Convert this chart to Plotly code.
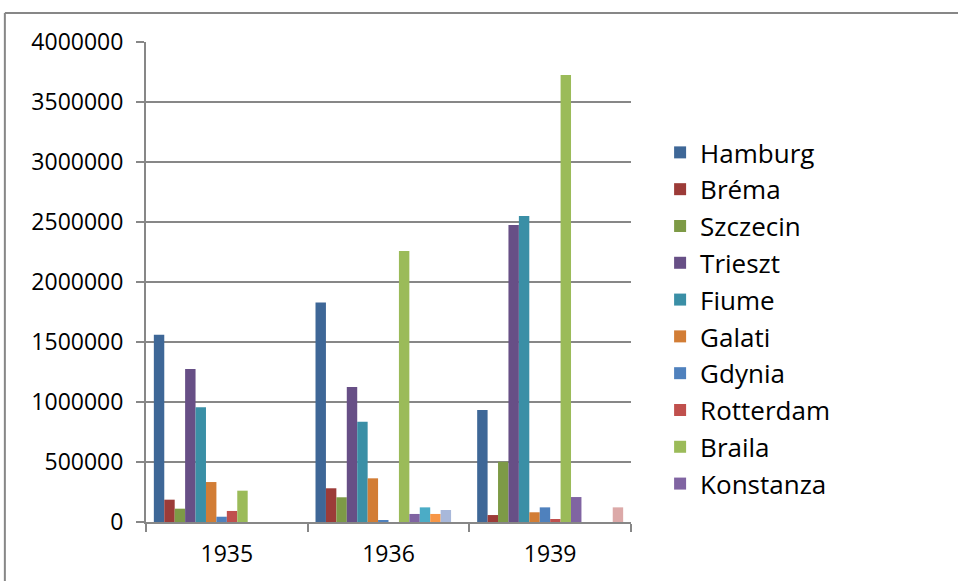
"""
Port traffic by year - grouped bar chart (Excel style)
"""
import plotly.graph_objects as go

# Categories (years)
years = ['1935', '1936', '1939']

# Series names (the last four have no legend entry in the original)
ports = ['Hamburg', 'Bréma', 'Szczecin', 'Trieszt', 'Fiume', 'Galati',
         'Gdynia', 'Rotterdam', 'Braila', 'Konstanza',
         'Sorozat 11', 'Sorozat 12', 'Sorozat 13', 'Sorozat 14']

# Values per port for 1935, 1936, 1939
hamburg = [1560000, 1830000, 933000]
brema = [186000, 281000, 58000]
szczecin = [111000, 206000, 502000]
trieszt = [1275000, 1125000, 2475000]
fiume = [956000, 836000, 2550000]
galati = [333000, 364000, 81000]
gdynia = [44000, 14000, 122000]
rotterdam = [92000, 0, 25000]
braila = [261000, 2258000, 3725000]
konstanza = [0, 67000, 208000]
series_11 = [0, 122000, 0]
series_12 = [0, 67000, 0]
series_13 = [0, 100000, 0]
series_14 = [0, 0, 122000]

values = [hamburg, brema, szczecin, trieszt, fiume, galati, gdynia,
          rotterdam, braila, konstanza, series_11, series_12, series_13, series_14]

colors = ['#3E6797', '#9C3B38', '#7D9A46', '#674F86', '#3A8FA6', '#D27D35',
          '#4F81BD', '#C0504D', '#9BBB59', '#8064A2',
          '#4BACC6', '#F79646', '#A8B8DA', '#DCA9A8']

GRID = '#878787'
FONT = 'Open Sans'

fig = go.Figure()

for i, (name, vals) in enumerate(zip(ports, values)):
    fig.add_trace(go.Bar(
        x=years,
        y=vals,
        name=name,
        marker=dict(color=colors[i], line=dict(width=0)),
        showlegend=i < 10,
    ))

# Chart area frame (top and left edges visible)
fig.add_shape(type='line', xref='paper', yref='paper',
              x0=-0.291, x1=2.5, y0=1.0604, y1=1.0604,
              line=dict(color=GRID, width=2))
fig.add_shape(type='line', xref='paper', yref='paper',
              x0=-0.291, x1=-0.291, y0=1.0604, y1=-0.3,
              line=dict(color=GRID, width=2))

fig.update_layout(
    width=958,
    height=581,
    margin=dict(l=146, r=327, t=42, b=59),
    paper_bgcolor='white',
    plot_bgcolor='white',
    barmode='group',
    bargap=0.097,
    bargroupgap=0,
    font=dict(family=FONT, color='#000000', size=23),
    xaxis=dict(
        showgrid=False,
        showline=True,
        linecolor=GRID,
        linewidth=2,
        ticks='outside',
        tickson='boundaries',
        ticklen=8,
        tickwidth=2,
        tickcolor=GRID,
        ticklabelstandoff=10,
        tickfont=dict(size=23),
    ),
    yaxis=dict(
        range=[0, 4000000],
        dtick=500000,
        tickformat='d',
        showgrid=True,
        gridcolor=GRID,
        gridwidth=2,
        showline=True,
        linecolor=GRID,
        linewidth=2,
        ticks='outside',
        ticklen=8,
        tickwidth=2,
        tickcolor=GRID,
        ticklabelstandoff=8,
        zeroline=False,
        tickfont=dict(size=23),
    ),
    showlegend=True,
    legend=dict(
        x=1.06,
        y=0.424,
        xanchor='left',
        yanchor='middle',
        font=dict(size=26, family=FONT),
        bgcolor='rgba(0,0,0,0)',
    ),
)

# drop the default page margin so the figure sits at the window corner
fig.write_html("out.html", config={'displayModeBar': False},
               post_script="document.body.style.margin='0';")
